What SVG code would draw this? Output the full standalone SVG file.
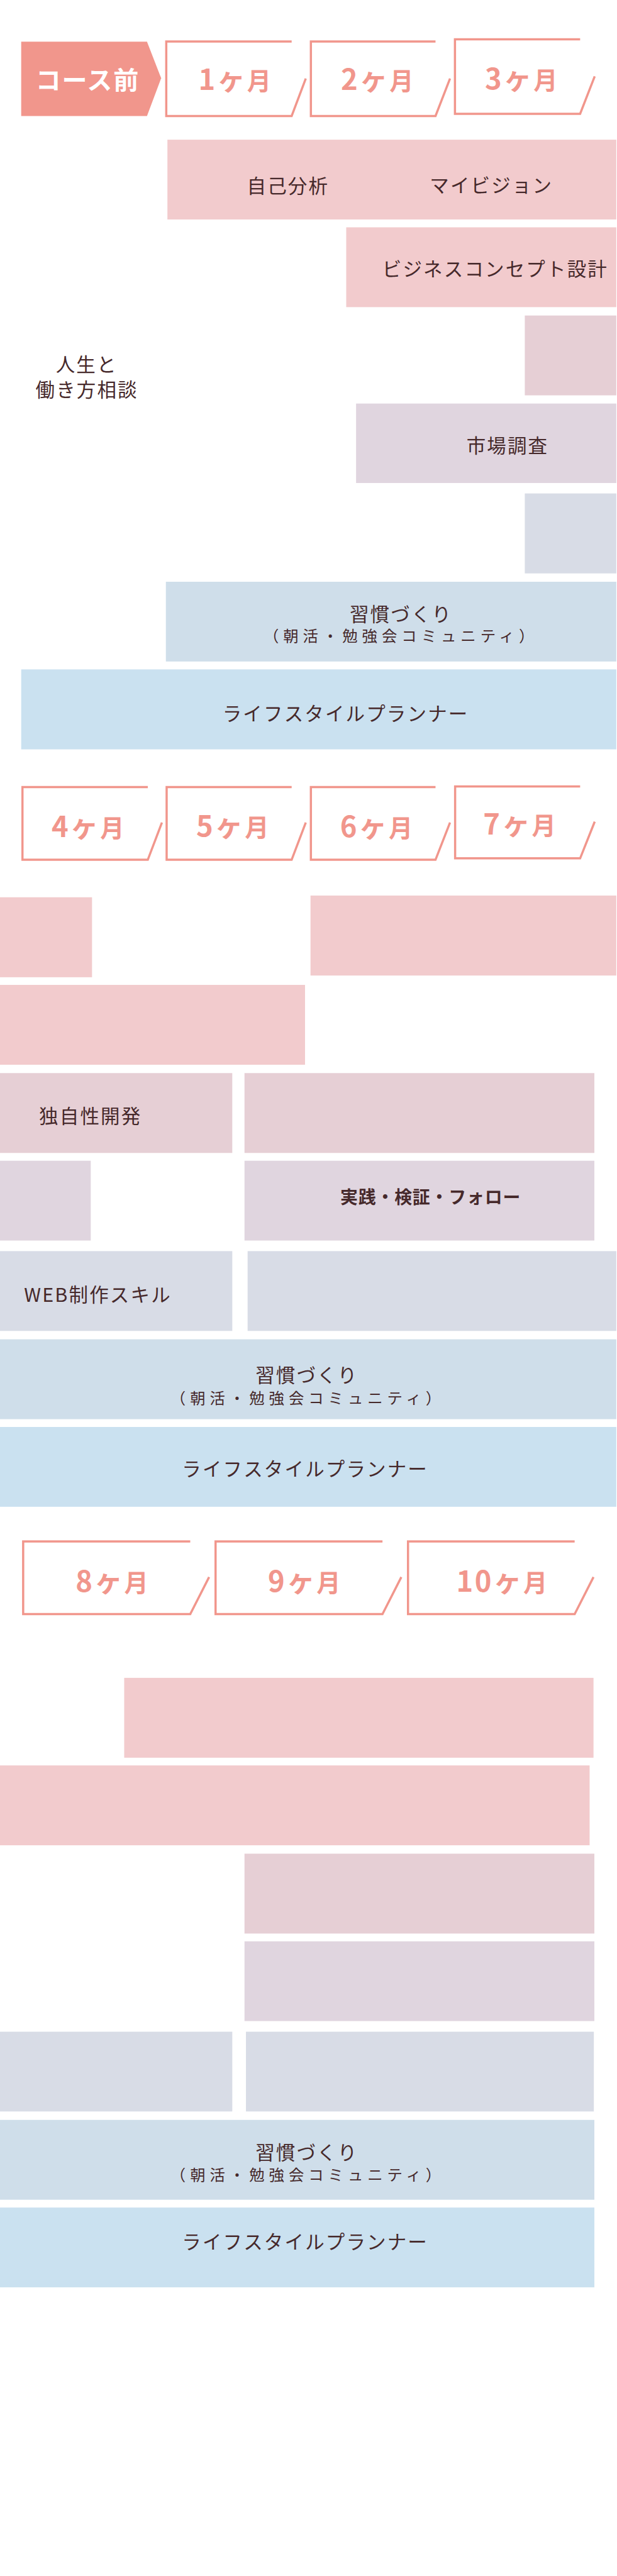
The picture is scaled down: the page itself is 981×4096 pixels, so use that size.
<svg xmlns="http://www.w3.org/2000/svg" width="981" height="4096" viewBox="0 0 981 4096">
<style>
.pink{fill:#f2cbcd}
.mauve{fill:#e6cfd5}
.lav{fill:#e0d5df}
.gb{fill:#d8dce6}
.hab{fill:#cfdeea}
.life{fill:#cae1f0}
.hdr{fill:none;stroke:#f1968c;stroke-width:4}
.t{font-family:"Noto Sans CJK JP","Noto Sans",sans-serif;font-size:35px;fill:#46292b;text-anchor:middle;letter-spacing:2.5px}
.s{font-size:28px;letter-spacing:8px}
.b{font-weight:700;font-size:32px;letter-spacing:1px}
.mon{font-family:"Noto Sans CJK JP","Noto Sans",sans-serif;font-weight:700;font-size:44px;fill:#f1968c;text-anchor:middle;letter-spacing:3px}
.num{font-size:52px}
.ke{font-size:52px}
.pre{font-family:"Noto Sans CJK JP","Noto Sans",sans-serif;font-weight:700;font-size:46px;fill:#ffffff;text-anchor:middle;letter-spacing:2px}
</style>
<g transform="scale(0.871)">
<g id="headers-1">
<g id="h-pre"><polygon points="38.7,76 268.3,76 294.2,142.7 268.3,211.7 38.7,211.7" fill="#f1968c"/><text class="pre" x="160" y="163">コース前</text></g>
<g id="h-m1"><path class="hdr" d="M532.4,75.8 H303.5 V211.7 H532.4 L558.2,143.3"/><text class="mon" x="430" y="164.3"><tspan class="num">1</tspan><tspan class="ke">ヶ</tspan>月</text></g>
<g id="h-m2"><path class="hdr" d="M795,75.8 H567.5 V211.7 H795 L821.5,143.3"/><text class="mon" x="690" y="164.3"><tspan class="num">2</tspan><tspan class="ke">ヶ</tspan>月</text></g>
<g id="h-m3"><path class="hdr" d="M1059,71.8 H830.5 V207.7 H1059 L1085.6,139.3"/><text class="mon" x="953" y="163"><tspan class="num">3</tspan><tspan class="ke">ヶ</tspan>月</text></g>
</g>
<g id="section-1">
<g id="n-jiko"><rect class="pink" x="305.6" y="255" width="819.4" height="145.7"/><text class="t" x="525.6" y="352">自己分析</text><text class="t" x="897" y="351">マイビジョン</text></g>
<g id="n-biz"><rect class="pink" x="632" y="415" width="493" height="145.7"/><text class="t" x="904" y="504">ビジネスコンセプト設計</text></g>
<g id="n-s1-3"><rect class="mauve" x="958" y="576" width="167" height="145.7"/></g>
<g id="n-label"><text class="t"><tspan x="158" y="679">人生と</tspan><tspan x="158.6" y="725">働き方相談</tspan></text></g>
<g id="n-market"><rect class="lav" x="650" y="736.7" width="475" height="145.1"/><text class="t" x="926.5" y="826.5">市場調査</text></g>
<g id="n-s1-5"><rect class="gb" x="958" y="900.8" width="167" height="146"/></g>
<g id="n-habit-1"><rect class="hab" x="302.8" y="1062" width="822.2" height="145.6"/><text class="t"><tspan x="732" y="1134">習慣づくり</tspan><tspan class="s" x="732" y="1171.5">（朝活・勉強会コミュニティ）</tspan></text></g>
<g id="n-life-1"><rect class="life" x="38.7" y="1222" width="1086.3" height="146"/><text class="t" x="631" y="1316">ライフスタイルプランナー</text></g>
</g>
<g id="headers-2">
<g id="h-m4"><path class="hdr" d="M269.8,1436.8 H41 V1569.5 H269.8 L295.6,1501.7"/><text class="mon" x="162" y="1528.3"><tspan class="num">4</tspan><tspan class="ke">ヶ</tspan>月</text></g>
<g id="h-m5"><path class="hdr" d="M532.4,1436.8 H304.2 V1569.5 H532.4 L558.2,1501.7"/><text class="mon" x="426" y="1527.3"><tspan class="num">5</tspan><tspan class="ke">ヶ</tspan>月</text></g>
<g id="h-m6"><path class="hdr" d="M795,1436.8 H567.5 V1569.5 H795 L821.5,1501.7"/><text class="mon" x="688.7" y="1528.3"><tspan class="num">6</tspan><tspan class="ke">ヶ</tspan>月</text></g>
<g id="h-m7"><path class="hdr" d="M1059,1435.8 H830.8 V1567 H1059 L1085.6,1500"/><text class="mon" x="950" y="1523.3"><tspan class="num">7</tspan><tspan class="ke">ヶ</tspan>月</text></g>
</g>
<g id="section-2">
<g id="n-s2-a"><rect class="pink" x="0" y="1638" width="168" height="146"/></g>
<g id="n-s2-b"><rect class="pink" x="566.8" y="1634.9" width="558.2" height="146"/></g>
<g id="n-s2-c"><rect class="pink" x="0" y="1798" width="556.8" height="145.7"/></g>
<g id="n-unique"><rect class="mauve" x="0" y="1959" width="424" height="145.8"/><text class="t" x="165" y="2050.5">独自性開発</text></g>
<g id="n-s2-e"><rect class="mauve" x="446.3" y="1959" width="638.7" height="145.8"/></g>
<g id="n-s2-f"><rect class="lav" x="0" y="2119" width="165.7" height="145.7"/></g>
<g id="n-practice"><rect class="lav" x="446.3" y="2119" width="638.7" height="145.7"/><text class="t b" x="786" y="2197">実践・検証・フォロー</text></g>
<g id="n-web"><rect class="gb" x="0" y="2284" width="424" height="145.7"/><text class="t" x="178.6" y="2377">WEB制作スキル</text></g>
<g id="n-s2-i"><rect class="gb" x="452" y="2284" width="673" height="145.7"/></g>
<g id="n-habit-2"><rect class="hab" x="0" y="2445" width="1125" height="145.8"/><text class="t"><tspan x="560" y="2524">習慣づくり</tspan><tspan class="s" x="562" y="2562">（朝活・勉強会コミュニティ）</tspan></text></g>
<g id="n-life-2"><rect class="life" x="0" y="2605" width="1125" height="145.7"/><text class="t" x="557" y="2695">ライフスタイルプランナー</text></g>
</g>
<g id="headers-3">
<g id="h-m8"><path class="hdr" d="M347.3,2814 H42.3 V2946.7 H347.3 L381.7,2879"/><text class="mon" x="206" y="2905.7"><tspan class="num">8</tspan><tspan class="ke">ヶ</tspan>月</text></g>
<g id="h-m9"><path class="hdr" d="M698.2,2814 H393.5 V2946.7 H698.2 L732.6,2879"/><text class="mon" x="557" y="2906"><tspan class="num">9</tspan><tspan class="ke">ヶ</tspan>月</text></g>
<g id="h-m10"><path class="hdr" d="M1049,2814 H744.8 V2946.7 H1049 L1083.4,2879"/><text class="mon" x="917.6" y="2905.7"><tspan class="num">10</tspan><tspan class="ke">ヶ</tspan>月</text></g>
</g>
<g id="section-3">
<g id="n-s3-a"><rect class="pink" x="226.7" y="3063" width="856.7" height="145.8"/></g>
<g id="n-s3-b"><rect class="pink" x="0" y="3222.9" width="1076.3" height="145.8"/></g>
<g id="n-s3-c"><rect class="mauve" x="446.3" y="3384" width="638.7" height="145.8"/></g>
<g id="n-s3-d"><rect class="lav" x="446.3" y="3544" width="638.7" height="145.6"/></g>
<g id="n-s3-e"><rect class="gb" x="0" y="3709" width="424" height="145.6"/></g>
<g id="n-s3-f"><rect class="gb" x="449" y="3709" width="635" height="145.6"/></g>
<g id="n-habit-3"><rect class="hab" x="0" y="3870" width="1085" height="145.7"/><text class="t"><tspan x="560" y="3942.5">習慣づくり</tspan><tspan class="s" x="562" y="3980.5">（朝活・勉強会コミュニティ）</tspan></text></g>
<g id="n-life-3"><rect class="life" x="0" y="4030" width="1085" height="145.7"/><text class="t" x="557" y="4106">ライフスタイルプランナー</text></g>
</g>
<g id="connectors"/>
</g>
</svg>
